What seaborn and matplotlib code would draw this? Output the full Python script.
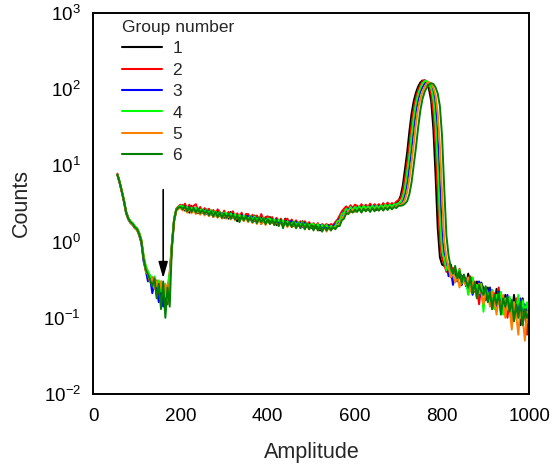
import matplotlib
matplotlib.use('Agg')
import matplotlib.pyplot as plt
import numpy as np
import pandas as pd
import seaborn as sns
from matplotlib.ticker import MultipleLocator, LogLocator, NullFormatter

# ---------------- data ----------------
amplitude = list(range(55, 1001, 5))   # channel grid (190 points)
groups = ['1', '2', '3', '4', '5', '6']
colors = ['#000000', '#ff0000', '#0000ff', '#00ff00', '#ff8000', '#008000']

counts_g1 = [
    7.6, 6.1, 4.5, 3.5, 2.4, 2.0, 1.85, 1.7, 1.5, 1.45,
    1.25, 1.0, 0.6, 0.43, 0.34, 0.36, 0.27, 0.32, 0.2, 0.29,
    0.16, 0.27, 0.13, 0.22, 0.35, 0.9, 1.9, 2.6, 2.75, 2.9,
    3.0, 2.55, 2.75, 2.4, 2.95, 2.5, 2.7, 2.35, 2.75, 2.4,
    2.3, 2.65, 2.3, 2.55, 2.1, 2.45, 2.55, 2.15, 2.25, 2.05,
    2.3, 2.0, 2.45, 2.05, 2.2, 1.85, 2.25, 2.1, 1.9, 2.25,
    2.0, 2.15, 1.8, 2.2, 1.85, 2.1, 1.7, 1.95, 2.05, 1.8,
    2.1, 1.75, 1.85, 1.65, 1.9, 1.8, 1.65, 2.0, 1.7, 1.8,
    1.6, 1.75, 1.85, 1.65, 1.55, 1.85, 1.65, 1.55, 1.75, 1.55,
    1.7, 1.5, 1.65, 1.4, 1.6, 1.5, 1.45, 1.65, 1.5, 1.6,
    1.6, 1.85, 1.95, 2.35, 2.4, 2.75, 2.5, 2.8, 2.55, 2.85,
    2.6, 2.9, 2.55, 2.95, 2.65, 2.85, 3.0, 2.7, 2.85, 2.6,
    2.95, 2.75, 3.05, 2.8, 3.0, 2.85, 3.1, 2.95, 3.2, 3.4,
    4.0, 5.5, 9.0, 15, 28, 48, 70, 90, 108, 122,
    130, 128, 118, 100, 70, 30, 7.5, 1.5, 0.62, 0.5,
    0.48, 0.55, 0.4, 0.5, 0.38, 0.44, 0.32, 0.4, 0.34, 0.36,
    0.26, 0.38, 0.28, 0.33, 0.22, 0.3, 0.2, 0.29, 0.24, 0.17,
    0.25, 0.17, 0.23, 0.14, 0.24, 0.16, 0.21, 0.12, 0.2, 0.15,
    0.18, 0.1, 0.2, 0.12, 0.16, 0.08, 0.18, 0.11, 0.15, 0.09,
]

counts_g2 = [
    7.8, 6.0, 4.7, 3.4, 2.5, 2.05, 1.8, 1.75, 1.55, 1.5,
    1.3, 1.05, 0.65, 0.47, 0.4, 0.3, 0.34, 0.25, 0.31, 0.2,
    0.3, 0.17, 0.27, 0.15, 0.4, 0.95, 2.0, 2.7, 2.9, 3.05,
    2.8, 3.15, 2.7, 3.05, 2.65, 2.95, 3.1, 2.55, 2.85, 2.45,
    2.75, 2.45, 2.7, 2.35, 2.6, 2.3, 2.65, 2.45, 2.2, 2.55,
    2.2, 2.45, 2.15, 2.5, 2.1, 2.35, 2.05, 2.4, 2.0, 2.3,
    2.3, 2.0, 2.25, 1.95, 2.2, 1.9, 2.3, 1.95, 2.1, 2.15,
    1.9, 2.1, 1.8, 2.05, 1.85, 2.0, 1.75, 1.95, 2.0, 1.75,
    1.95, 1.7, 1.9, 1.7, 1.85, 1.65, 1.85, 1.7, 1.8, 1.6,
    1.75, 1.6, 1.75, 1.55, 1.7, 1.6, 1.7, 1.55, 1.7, 1.65,
    1.8, 1.95, 2.2, 2.5, 2.7, 2.9, 2.7, 3.0, 2.75, 3.05,
    2.95, 2.75, 3.1, 2.8, 3.05, 2.85, 3.15, 2.85, 3.1, 2.9,
    3.1, 2.9, 3.2, 2.95, 3.25, 3.0, 3.2, 3.1, 3.35, 3.5,
    3.7, 4.6, 6.8, 11, 19, 35, 56, 78, 97, 113,
    126, 132, 125, 111, 87, 50, 18, 4.2, 1.0, 0.6,
    0.5, 0.4, 0.5, 0.34, 0.45, 0.38, 0.33, 0.44, 0.27, 0.35,
    0.31, 0.24, 0.35, 0.22, 0.3, 0.24, 0.15, 0.27, 0.21, 0.25,
    0.18, 0.23, 0.13, 0.21, 0.16, 0.25, 0.12, 0.18, 0.15, 0.1,
    0.17, 0.13, 0.09, 0.18, 0.12, 0.16, 0.08, 0.14, 0.06, 0.11,
]

counts_g3 = [
    7.5, 5.9, 4.5, 3.3, 2.35, 1.95, 1.75, 1.65, 1.5, 1.45,
    1.2, 0.95, 0.55, 0.42, 0.3, 0.33, 0.21, 0.28, 0.23, 0.16,
    0.26, 0.14, 0.22, 0.18, 0.3, 0.85, 1.85, 2.55, 2.75, 2.8,
    2.7, 2.9, 2.55, 2.85, 2.5, 2.75, 2.45, 2.7, 2.4, 2.6,
    2.55, 2.3, 2.5, 2.25, 2.45, 2.2, 2.4, 2.2, 2.35, 2.15,
    2.1, 2.3, 2.05, 2.3, 2.0, 2.2, 2.0, 2.25, 1.95, 2.15,
    2.15, 1.9, 2.1, 1.85, 2.05, 1.85, 2.05, 1.8, 2.0, 1.8,
    1.8, 1.95, 1.75, 1.95, 1.7, 1.9, 1.75, 1.85, 1.65, 1.85,
    1.85, 1.6, 1.8, 1.6, 1.75, 1.55, 1.75, 1.55, 1.7, 1.5,
    1.55, 1.65, 1.5, 1.65, 1.45, 1.6, 1.45, 1.6, 1.5, 1.6,
    1.7, 1.75, 2.0, 2.2, 2.5, 2.45, 2.7, 2.55, 2.75, 2.6,
    2.8, 2.6, 2.85, 2.6, 2.85, 2.65, 2.9, 2.7, 2.9, 2.7,
    2.9, 2.75, 2.95, 2.8, 3.0, 2.8, 3.0, 2.9, 3.1, 3.05,
    3.15, 3.4, 4.2, 5.9, 10, 17, 31, 51, 73, 93,
    106, 119, 125, 121, 110, 91, 60, 22, 5.5, 1.2,
    0.65, 0.5, 0.35, 0.42, 0.27, 0.38, 0.3, 0.38, 0.27, 0.34,
    0.28, 0.23, 0.32, 0.2, 0.27, 0.24, 0.3, 0.19, 0.25, 0.22,
    0.2, 0.25, 0.17, 0.2, 0.14, 0.22, 0.16, 0.19, 0.13, 0.2,
    0.14, 0.17, 0.11, 0.16, 0.13, 0.18, 0.12, 0.15, 0.09, 0.13,
]

counts_g4 = [
    7.6, 6.1, 4.7, 3.5, 2.45, 2.05, 1.85, 1.75, 1.6, 1.5,
    1.3, 1.05, 0.66, 0.48, 0.41, 0.36, 0.3, 0.35, 0.26, 0.31,
    0.22, 0.29, 0.19, 0.27, 0.38, 0.95, 2.0, 2.65, 2.85, 2.95,
    2.9, 2.7, 2.85, 2.6, 2.8, 2.55, 2.8, 2.5, 2.6, 2.65,
    2.45, 2.6, 2.35, 2.6, 2.3, 2.5, 2.25, 2.45, 2.2, 2.4,
    2.35, 2.15, 2.35, 2.1, 2.3, 2.05, 2.25, 2.0, 2.2, 2.05,
    2.0, 2.15, 1.95, 2.15, 1.9, 2.1, 1.9, 2.05, 1.85, 2.0,
    2.0, 1.8, 1.95, 1.75, 1.95, 1.75, 1.9, 1.7, 1.85, 1.7,
    1.7, 1.85, 1.65, 1.8, 1.65, 1.8, 1.6, 1.75, 1.6, 1.7,
    1.7, 1.55, 1.7, 1.5, 1.65, 1.5, 1.65, 1.5, 1.6, 1.55,
    1.6, 1.85, 1.9, 2.3, 2.4, 2.7, 2.5, 2.85, 2.6, 2.85,
    2.65, 2.9, 2.65, 2.95, 2.7, 2.9, 2.75, 2.95, 2.75, 2.95,
    2.75, 3.0, 2.8, 3.05, 2.85, 3.05, 2.9, 3.1, 3.05, 3.2,
    3.3, 3.85, 5.1, 8.2, 13.5, 25, 43, 65, 86, 104,
    119, 128, 128, 120, 103, 75, 36, 10, 2.0, 0.75,
    0.6, 0.42, 0.5, 0.36, 0.42, 0.3, 0.38, 0.43, 0.28, 0.34,
    0.3, 0.2, 0.28, 0.34, 0.23, 0.27, 0.21, 0.28, 0.12, 0.25,
    0.21, 0.16, 0.23, 0.13, 0.2, 0.16, 0.22, 0.11, 0.18, 0.15,
    0.19, 0.1, 0.16, 0.13, 0.2, 0.1, 0.17, 0.12, 0.16, 0.1,
]

counts_g5 = [
    7.4, 5.9, 4.5, 3.3, 2.35, 1.95, 1.75, 1.65, 1.5, 1.4,
    1.2, 1.0, 0.6, 0.4, 0.37, 0.29, 0.33, 0.24, 0.3, 0.22,
    0.3, 0.2, 0.28, 0.17, 0.3, 0.82, 1.8, 2.5, 2.7, 2.75,
    2.55, 2.75, 2.4, 2.7, 2.35, 2.6, 2.3, 2.55, 2.25, 2.5,
    2.2, 2.45, 2.15, 2.4, 2.1, 2.3, 2.05, 2.3, 2.0, 2.25,
    2.0, 2.2, 1.95, 2.2, 1.9, 2.15, 1.85, 2.1, 1.85, 2.05,
    1.8, 2.05, 1.75, 2.0, 1.7, 1.95, 1.7, 1.9, 1.65, 1.9,
    1.7, 1.85, 1.65, 1.8, 1.6, 1.8, 1.6, 1.75, 1.55, 1.7,
    1.55, 1.7, 1.5, 1.7, 1.5, 1.65, 1.45, 1.65, 1.45, 1.6,
    1.45, 1.6, 1.4, 1.55, 1.4, 1.55, 1.35, 1.55, 1.4, 1.55,
    1.5, 1.6, 1.75, 1.95, 2.2, 2.3, 2.55, 2.4, 2.65, 2.45,
    2.5, 2.7, 2.45, 2.7, 2.5, 2.75, 2.5, 2.75, 2.55, 2.8,
    2.55, 2.8, 2.6, 2.85, 2.65, 2.85, 2.7, 2.9, 2.85, 3.0,
    3.05, 3.2, 3.55, 4.5, 6.7, 11, 19, 35, 56, 74,
    92, 107, 120, 124, 118, 105, 83, 48, 18, 4.2,
    1.0, 0.6, 0.45, 0.34, 0.4, 0.29, 0.36, 0.25, 0.34, 0.29,
    0.27, 0.34, 0.22, 0.29, 0.25, 0.18, 0.28, 0.21, 0.15, 0.23,
    0.2, 0.14, 0.22, 0.17, 0.11, 0.18, 0.14, 0.2, 0.1, 0.16,
    0.13, 0.07, 0.16, 0.11, 0.06, 0.14, 0.1, 0.05, 0.12, 0.08,
]

counts_g6 = [
    7.5, 6.0, 4.6, 3.4, 2.4, 2.0, 1.8, 1.7, 1.55, 1.45,
    1.25, 1.0, 0.6, 0.43, 0.37, 0.31, 0.26, 0.33, 0.18, 0.28,
    0.13, 0.3, 0.1, 0.25, 0.14, 0.85, 1.9, 2.6, 2.8, 2.85,
    2.65, 2.9, 2.5, 2.85, 2.45, 2.75, 2.4, 2.7, 2.35, 2.6,
    2.3, 2.55, 2.2, 2.5, 2.15, 2.45, 2.1, 2.4, 2.05, 2.35,
    2.05, 2.3, 2.0, 2.25, 1.95, 2.2, 1.8, 2.15, 1.9, 2.15,
    1.85, 2.1, 1.8, 2.05, 1.75, 2.05, 1.8, 2.0, 1.7, 1.95,
    1.7, 1.95, 1.65, 1.9, 1.6, 1.9, 1.5, 1.85, 1.6, 1.8,
    1.55, 1.8, 1.5, 1.75, 1.5, 1.75, 1.45, 1.7, 1.45, 1.65,
    1.4, 1.65, 1.4, 1.6, 1.35, 1.6, 1.4, 1.55, 1.4, 1.55,
    1.45, 1.6, 1.6, 1.9, 2.0, 2.35, 2.3, 2.55, 2.4, 2.6,
    2.45, 2.7, 2.4, 2.7, 2.5, 2.7, 2.45, 2.75, 2.5, 2.75,
    2.55, 2.8, 2.55, 2.8, 2.6, 2.85, 2.65, 2.85, 2.75, 2.95,
    2.95, 3.0, 3.15, 3.4, 4.2, 6.0, 10, 17, 31, 52,
    74, 92, 106, 115, 120, 117, 106, 88, 60, 24,
    5.0, 1.2, 0.65, 0.46, 0.38, 0.48, 0.33, 0.41, 0.29, 0.37,
    0.3, 0.25, 0.34, 0.21, 0.29, 0.18, 0.27, 0.22, 0.2, 0.26,
    0.16, 0.22, 0.13, 0.2, 0.15, 0.21, 0.11, 0.18, 0.14, 0.19,
    0.12, 0.17, 0.09, 0.15, 0.1, 0.16, 0.08, 0.13, 0.1, 0.12,
]

arrow_x = 160
arrow_y_start = 4.8
arrow_y_end = 0.33

series = [counts_g1, counts_g2, counts_g3, counts_g4, counts_g5, counts_g6]
frames = []
for g, vals in zip(groups, series):
    assert len(vals) == len(amplitude), (g, len(vals))
    frames.append(pd.DataFrame({'Amplitude': amplitude, 'Counts': vals, 'Group': g}))
df = pd.concat(frames, ignore_index=True)

# ---------------- style ----------------
sns.set_style('white')
plt.rcParams['font.family'] = ['Liberation Sans', 'DejaVu Sans']
plt.rcParams['mathtext.fontset'] = 'custom'
plt.rcParams['mathtext.rm'] = 'Liberation Sans'
plt.rcParams['mathtext.it'] = 'Liberation Sans:italic'
plt.rcParams['axes.unicode_minus'] = False
plt.rcParams['axes.linewidth'] = 1.4

fig = plt.figure(figsize=(5.53, 4.65), dpi=100)
ax = fig.add_axes([0.169, 0.1527, 0.788, 0.8194])

sns.lineplot(data=df, x='Amplitude', y='Counts', hue='Group', hue_order=groups,
             palette=dict(zip(groups, colors)), estimator=None, sort=False,
             linewidth=1.4, ax=ax)

ax.set_yscale('log')
ax.set_xlim(0, 1000)
ax.set_ylim(1e-2, 1e3)

ax.xaxis.set_major_locator(MultipleLocator(200))
ax.xaxis.set_minor_locator(MultipleLocator(100))
ax.yaxis.set_major_locator(LogLocator(base=10, numticks=10))
ax.yaxis.set_minor_locator(LogLocator(base=10, subs=np.arange(2, 10), numticks=20))
ax.yaxis.set_minor_formatter(NullFormatter())

ax.tick_params(which='both', direction='in', top=False, right=False, colors='black', width=1.2)
ax.tick_params(which='major', length=8, labelsize=13.5)
ax.tick_params(axis='x', which='major', pad=10)
ax.tick_params(axis='y', which='major', pad=9)
ax.tick_params(which='minor', length=4)
for s in ax.spines.values():
    s.set_color('black')
    s.set_linewidth(1.4)

ax.set_xlabel('Amplitude', fontsize=15.5, labelpad=12)
ax.set_ylabel('Counts', fontsize=15.5, labelpad=8)

ax.annotate('', xy=(arrow_x, arrow_y_end), xytext=(arrow_x, arrow_y_start),
            arrowprops=dict(arrowstyle='-|>,head_length=0.7,head_width=0.2',
                            color='black', lw=1.2, mutation_scale=14,
                            shrinkA=0, shrinkB=0))

handles, labels = ax.get_legend_handles_labels()
leg = ax.legend(handles, labels, title='Group number', frameon=False,
                loc='upper left', bbox_to_anchor=(0.05, 1.0), borderaxespad=0,
                fontsize=12.5, title_fontsize=12.5, handlelength=2.3,
                handletextpad=0.6, labelspacing=0.36, alignment='left')
for h in leg.get_lines():
    h.set_linewidth(1.5)

fig.savefig('out.png', dpi=100)
